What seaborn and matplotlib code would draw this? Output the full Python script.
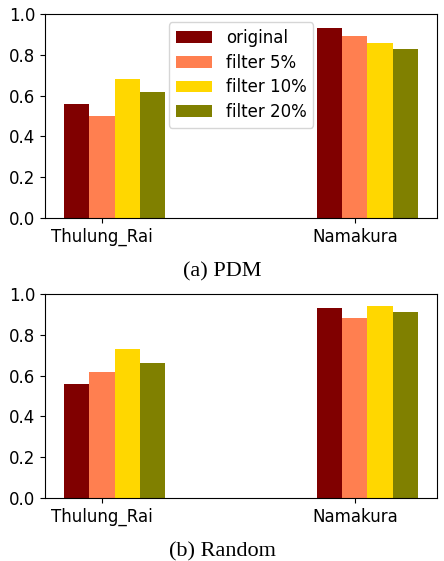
import numpy as np
import pandas as pd
import matplotlib
matplotlib.use("Agg")
import matplotlib.pyplot as plt
import seaborn as sns

# ---- data ----
languages = ["Thulung_Rai", "Namakura"]
settings = ["original", "filter 5%", "filter 10%", "filter 20%"]
colors = ["#800000", "#FF7F50", "#FFD700", "#808000"]

pdm_original = [0.56, 0.93]
pdm_filter5 = [0.50, 0.89]
pdm_filter10 = [0.68, 0.86]
pdm_filter20 = [0.62, 0.83]

rand_original = [0.56, 0.93]
rand_filter5 = [0.62, 0.88]
rand_filter10 = [0.73, 0.94]
rand_filter20 = [0.66, 0.91]

yticks = [0.0, 0.2, 0.4, 0.6, 0.8, 1.0]
captions = ["(a) PDM", "(b) Random"]


def make_df(series):
    rows = []
    for setting, vals in zip(settings, series):
        for lang, v in zip(languages, vals):
            rows.append({"language": lang, "setting": setting, "score": v})
    return pd.DataFrame(rows)


df_pdm = make_df([pdm_original, pdm_filter5, pdm_filter10, pdm_filter20])
df_rand = make_df([rand_original, rand_filter5, rand_filter10, rand_filter20])

plt.rcParams["font.family"] = ["DejaVu Sans"]
W, H = 444, 561
fig = plt.figure(figsize=(W / 100, H / 100), dpi=100)

ax1 = fig.add_axes([45 / W, 1 - 218 / H, 392 / W, 204 / H])
ax2 = fig.add_axes([45 / W, 1 - 498 / H, 392 / W, 204 / H])

palette = dict(zip(settings, colors))

for ax, df, cap, cap_y in [(ax1, df_pdm, captions[0], 276), (ax2, df_rand, captions[1], 556)]:
    sns.barplot(data=df, x="language", y="score", hue="setting",
                order=languages, hue_order=settings, palette=palette,
                width=0.4, saturation=1, linewidth=0, errorbar=None,
                legend=(ax is ax1), ax=ax)
    ax.set_xlim(-0.275, 1.275)
    ax.set_ylim(0, 1.0)
    ax.set_xticks([-0.05, 0.95])
    ax.set_xticklabels(languages)
    ax.set_yticks(yticks)
    ax.set_yticklabels([f"{t:.1f}" for t in yticks])
    ax.tick_params(labelsize=12)
    ax.set_xlabel("")
    ax.set_ylabel("")
    for s in ax.spines.values():
        s.set_visible(True)
        s.set_linewidth(0.8)
    fig.text(0.5, 1 - cap_y / H, cap, ha="center", va="baseline",
             family=["Liberation Serif", "DejaVu Serif"], fontsize=16)

handles, labels = ax1.get_legend_handles_labels()
if ax1.get_legend() is not None:
    ax1.get_legend().remove()
ax1.legend(handles, labels, loc="upper center", fontsize=12,
           handlelength=2.2, labelspacing=0.4, frameon=True)

fig.savefig("out.png", dpi=100)
